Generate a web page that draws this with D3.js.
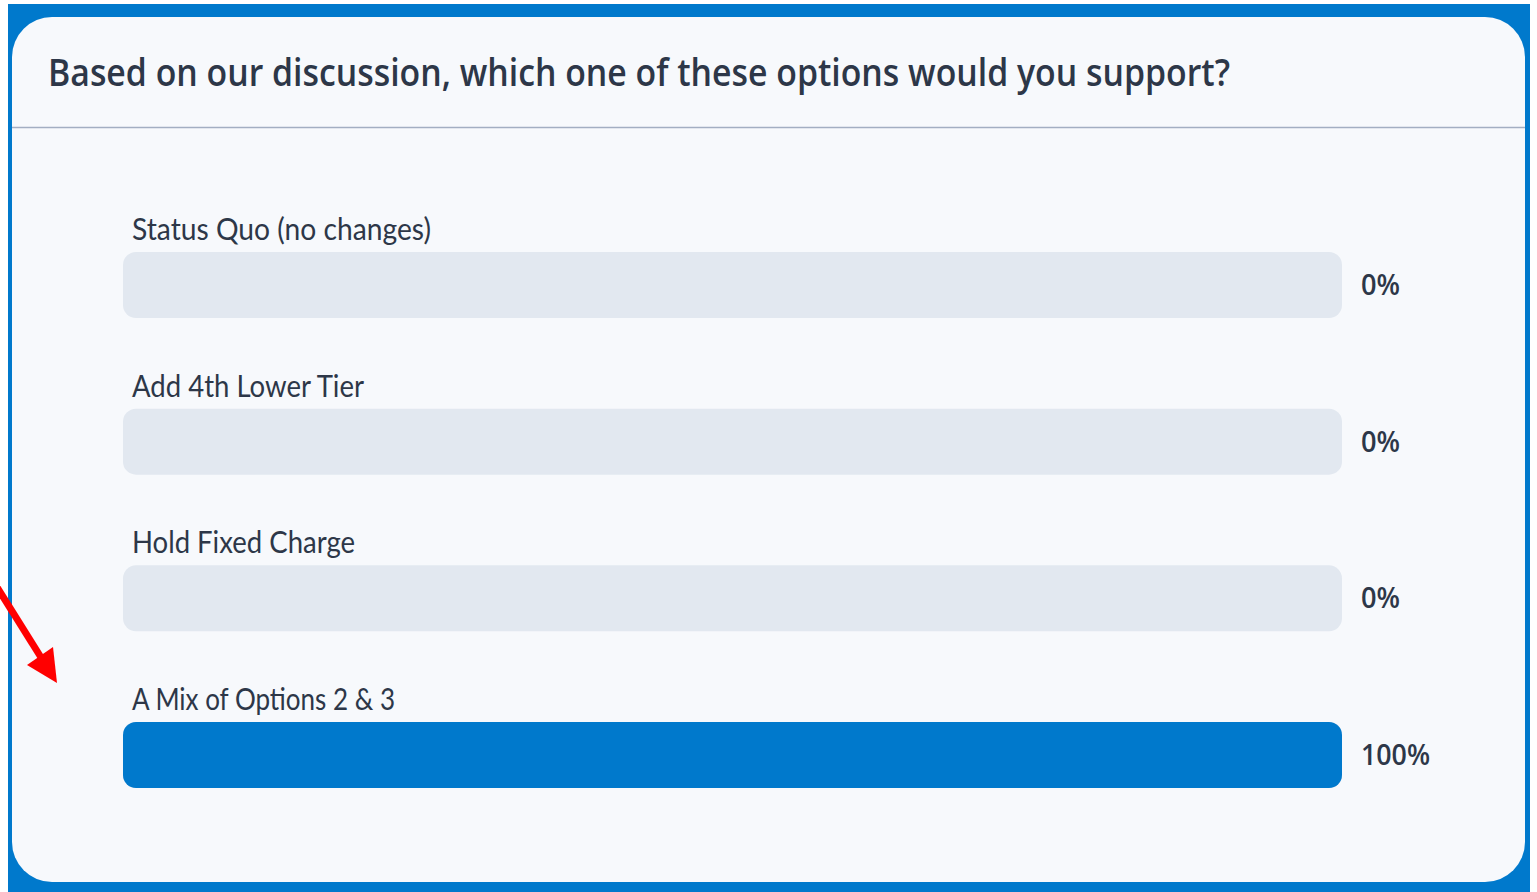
<!DOCTYPE html>
<html lang="en">
<head>
  <meta charset="UTF-8">
  <title>Poll result</title>
  <script src='https://d3js.org/d3.v7.min.js'></script>
  <style>
    body { margin: 0; background: #fff; }
    svg { display: block; }
  </style>
</head>
<body>
</body>
<script>
  const width = 1537, height = 892;

  // poll data
  const question = 'Based on our discussion, which one of these options would you support?';
  const options = ['Status Quo (no changes)', 'Add 4th Lower Tier', 'Hold Fixed Charge', 'A Mix of Options 2 & 3'];
  const percents = [0, 0, 0, 100];
  // measured label widths so the narrow original font is matched
  const labelWidths = [299, 232, 223, 263];

  const blue = '#0079cc', ink = '#2d3748';

  const svg = d3.select('body').append('svg').attr('width', width).attr('height', height);

  // blue frame + rounded panel
  svg.append('rect').attr('x', 8).attr('y', 4).attr('width', 1522).attr('height', height - 4).attr('fill', blue);

  const px0 = 12, py0 = 17, px1 = 1525, py1 = 882, r = 40;
  const p = d3.path();
  p.moveTo(px0 + r, py0);
  p.lineTo(px1 - r, py0);
  p.arcTo(px1, py0, px1, py0 + r, r);
  p.lineTo(px1, py1 - r);
  p.arcTo(px1, py1, px1 - r, py1, r);
  p.lineTo(px0 + r, py1);
  p.arcTo(px0, py1, px0, py1 - r, r);
  p.lineTo(px0, py0 + r);
  p.arcTo(px0, py0, px0 + r, py0, r);
  p.closePath();
  svg.append('path').attr('d', p.toString()).attr('fill', '#f7f9fc');

  // header
  svg.append('text')
    .attr('x', 48).attr('y', 86)
    .attr('font-family', '"Open Sans", Lato, sans-serif')
    .attr('font-weight', 600)
    .attr('font-size', 38)
    .attr('fill', ink)
    .attr('textLength', 1182)
    .attr('lengthAdjust', 'spacingAndGlyphs')
    .text(question);

  svg.append('line')
    .attr('x1', px0).attr('x2', px1).attr('y1', 127.5).attr('y2', 127.5)
    .attr('stroke', '#a3aec2').attr('stroke-width', 1.5);

  // scales
  const x = d3.scaleLinear().domain([0, 100]).range([123, 1342]);
  const y = d3.scalePoint().domain(options).range([252, 722]);
  const barH = 66;

  const rows = svg.append('g').selectAll('g')
    .data(options.map((o, i) => ({name: o, value: percents[i], w: labelWidths[i]})))
    .join('g')
    .attr('transform', d => `translate(0,${y(d.name)})`);

  rows.append('rect')
    .attr('x', x(0)).attr('y', 0)
    .attr('width', x(100) - x(0)).attr('height', barH)
    .attr('rx', 13)
    .attr('fill', '#e2e8f0');

  rows.filter(d => d.value > 0).append('rect')
    .attr('x', x(0)).attr('y', 0)
    .attr('width', d => x(d.value) - x(0)).attr('height', barH)
    .attr('rx', 13)
    .attr('fill', blue);

  rows.append('text')
    .attr('x', 132).attr('y', -12)
    .attr('font-family', 'Lato, "Noto Sans", sans-serif')
    .attr('font-size', 31)
    .attr('fill', ink)
    .attr('textLength', d => d.w)
    .attr('lengthAdjust', 'spacingAndGlyphs')
    .text(d => d.name);

  rows.append('text')
    .attr('x', 1361).attr('y', barH / 2 + 10)
    .attr('font-family', '"Open Sans", Lato, sans-serif')
    .attr('font-weight', 600)
    .attr('font-size', 29)
    .attr('fill', ink)
    .attr('textLength', d => d.value === 100 ? 69 : 39)
    .attr('lengthAdjust', 'spacingAndGlyphs')
    .text(d => d.value + '%');

  // red pointer arrow
  svg.append('line')
    .attr('x1', -8).attr('y1', 579).attr('x2', 42).attr('y2', 659)
    .attr('stroke', '#ff0000').attr('stroke-width', 7);
  svg.append('path')
    .attr('d', 'M27,665 L53,647 L57,683 Z')
    .attr('fill', '#ff0000');
</script>
</html>
